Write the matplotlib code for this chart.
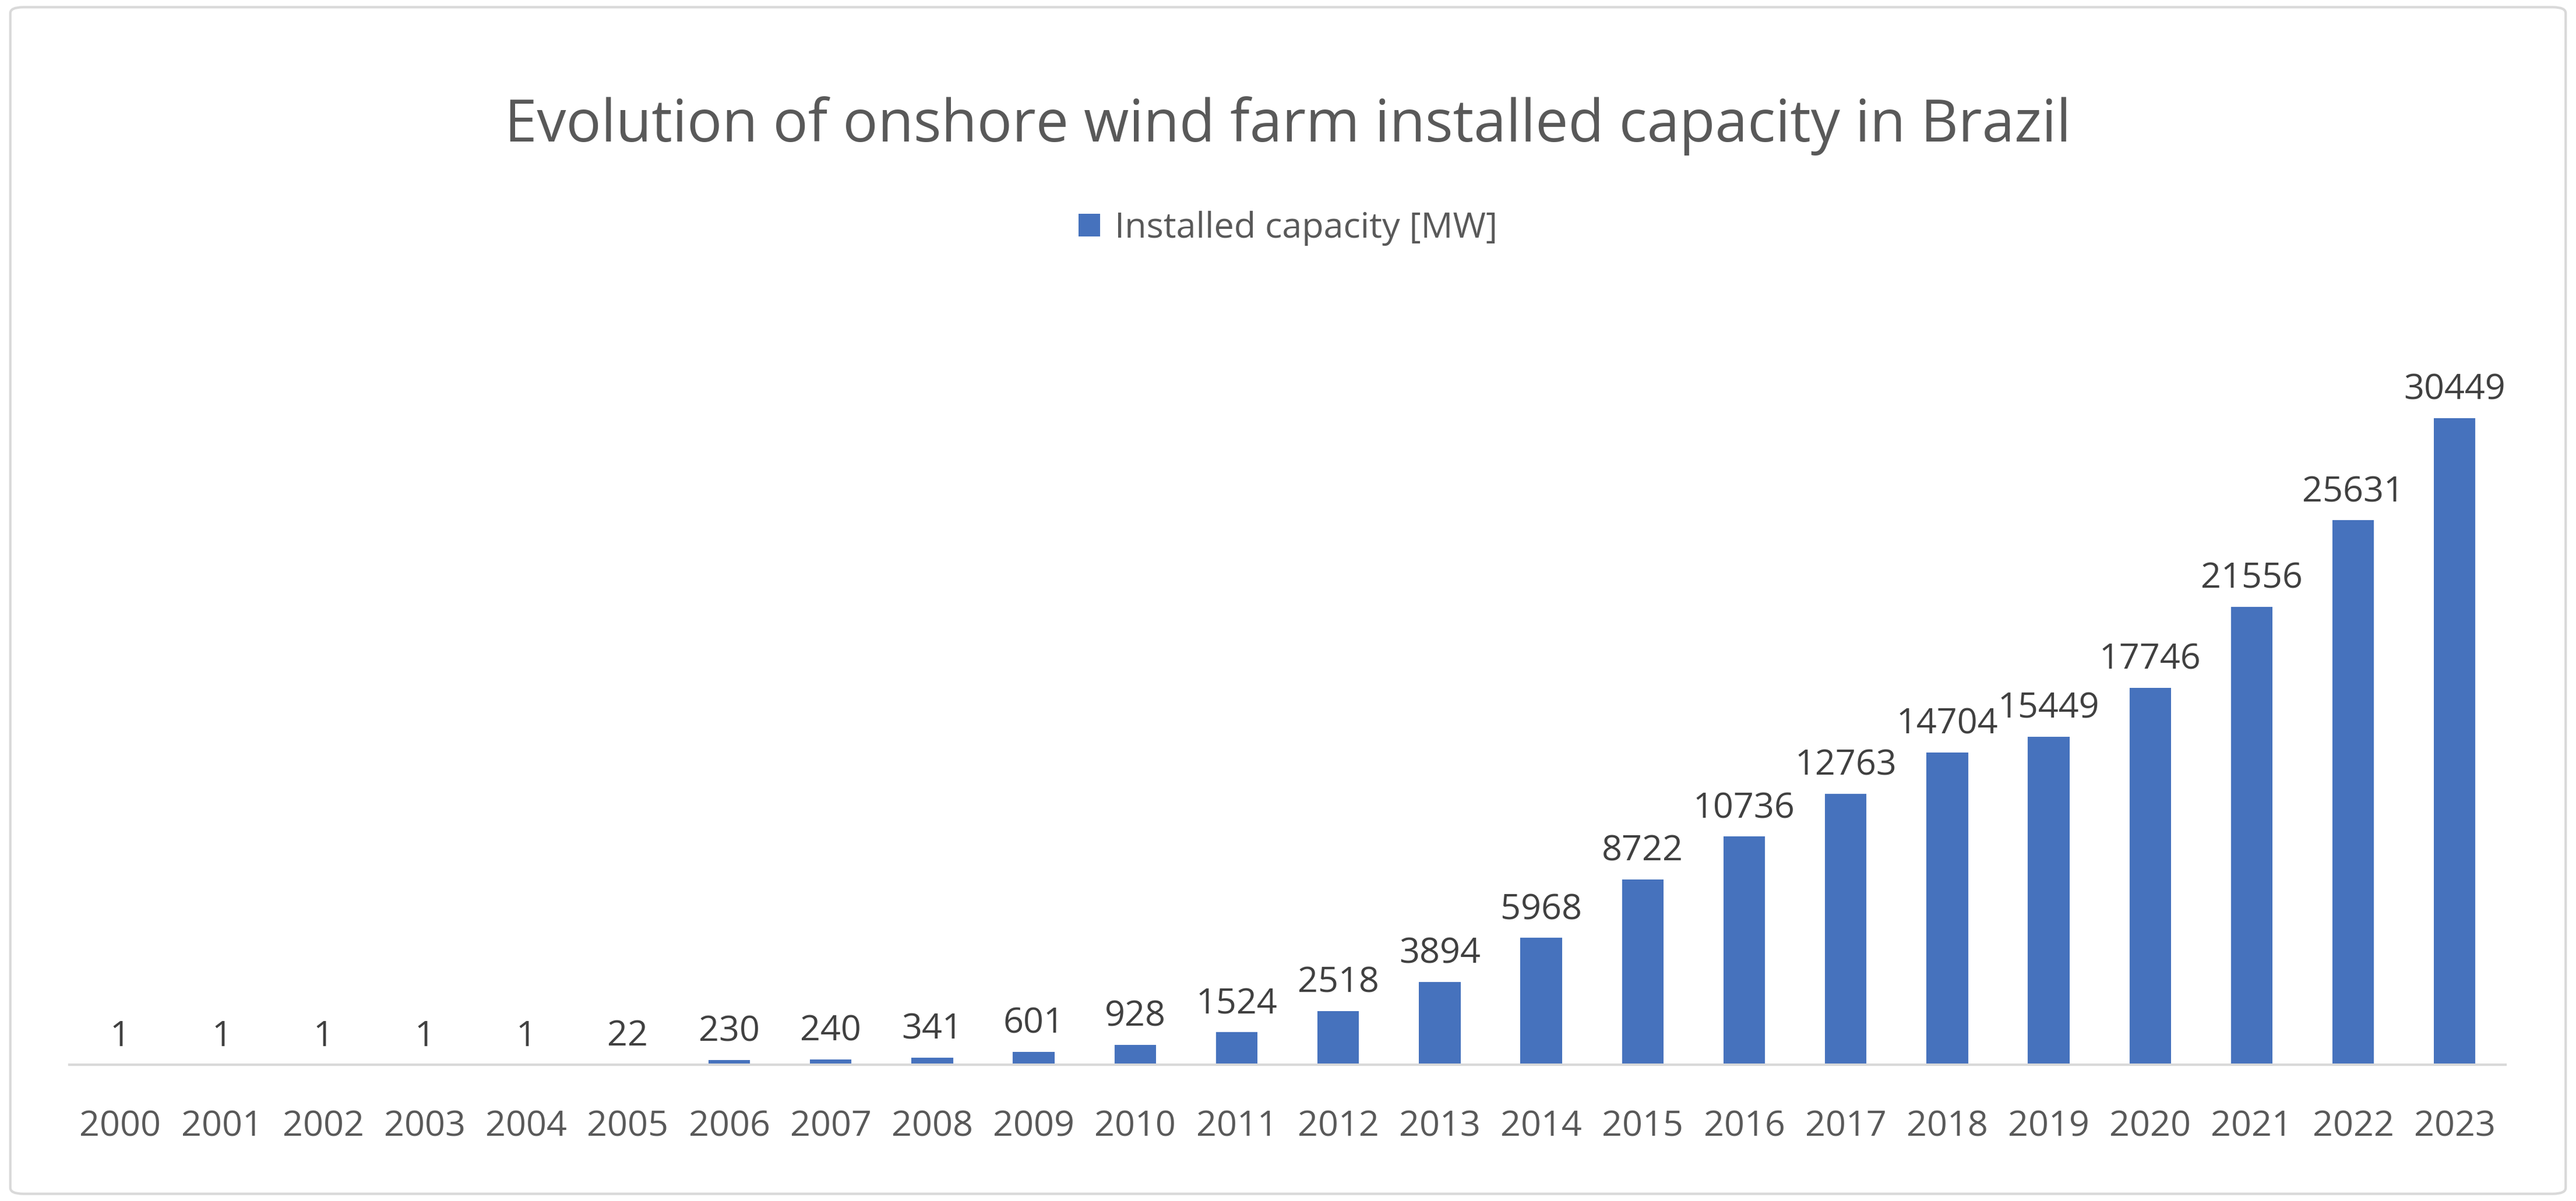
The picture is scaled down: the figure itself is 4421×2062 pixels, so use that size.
import matplotlib
matplotlib.use("Agg")
import matplotlib.pyplot as plt
from matplotlib.patches import FancyBboxPatch

years = [str(y) for y in range(2000, 2024)]
capacity = [1, 1, 1, 1, 1, 22, 230, 240, 341, 601, 928, 1524, 2518, 3894,
            5968, 8722, 10736, 12763, 14704, 15449, 17746, 21556, 25631, 30449]
series_name = "Installed capacity [MW]"
title = "Evolution of onshore wind farm installed capacity in Brazil"

plt.rcParams["font.family"] = "Open Sans"
fig = plt.figure(figsize=(44.21, 20.62), dpi=100)
fig.patches.append(FancyBboxPatch((0.004, 0.006), 0.992, 0.988,
                                  boxstyle="round,pad=0,rounding_size=0.005",
                                  transform=fig.transFigure, fill=False,
                                  edgecolor="#d9d9d9", linewidth=3))
ax = fig.add_axes([0.027, 0.1135, 0.9456, 0.619])
x = range(len(years))
bars = ax.bar(x, capacity, width=0.41, color="#4672BD", label=series_name)
for xi, v in zip(x, capacity):
    ax.text(xi, v + 500, str(v), ha="center", va="bottom", fontsize=44, color="#404040")
ax.set_xlim(-0.5, len(years) - 0.5)
ax.set_ylim(0, 35000)
ax.set_xticks(list(x))
ax.set_xticklabels(years, fontsize=44, color="#595959")
ax.tick_params(axis="x", length=0, pad=55)
ax.set_yticks([])
for s in ["top", "right", "left"]:
    ax.spines[s].set_visible(False)
ax.spines["bottom"].set_color("#d9d9d9")
ax.spines["bottom"].set_linewidth(3)
fig.text(0.5, 0.895, title, ha="center", va="center", fontsize=72, color="#595959")
fig.legend(handles=[bars], labels=[series_name], loc="center", bbox_to_anchor=(0.5, 0.81),
           frameon=False, fontsize=44, labelcolor="#595959", handlelength=0.6,
           handleheight=0.6, handletextpad=0.4)
fig.savefig("out.png", dpi=100)
